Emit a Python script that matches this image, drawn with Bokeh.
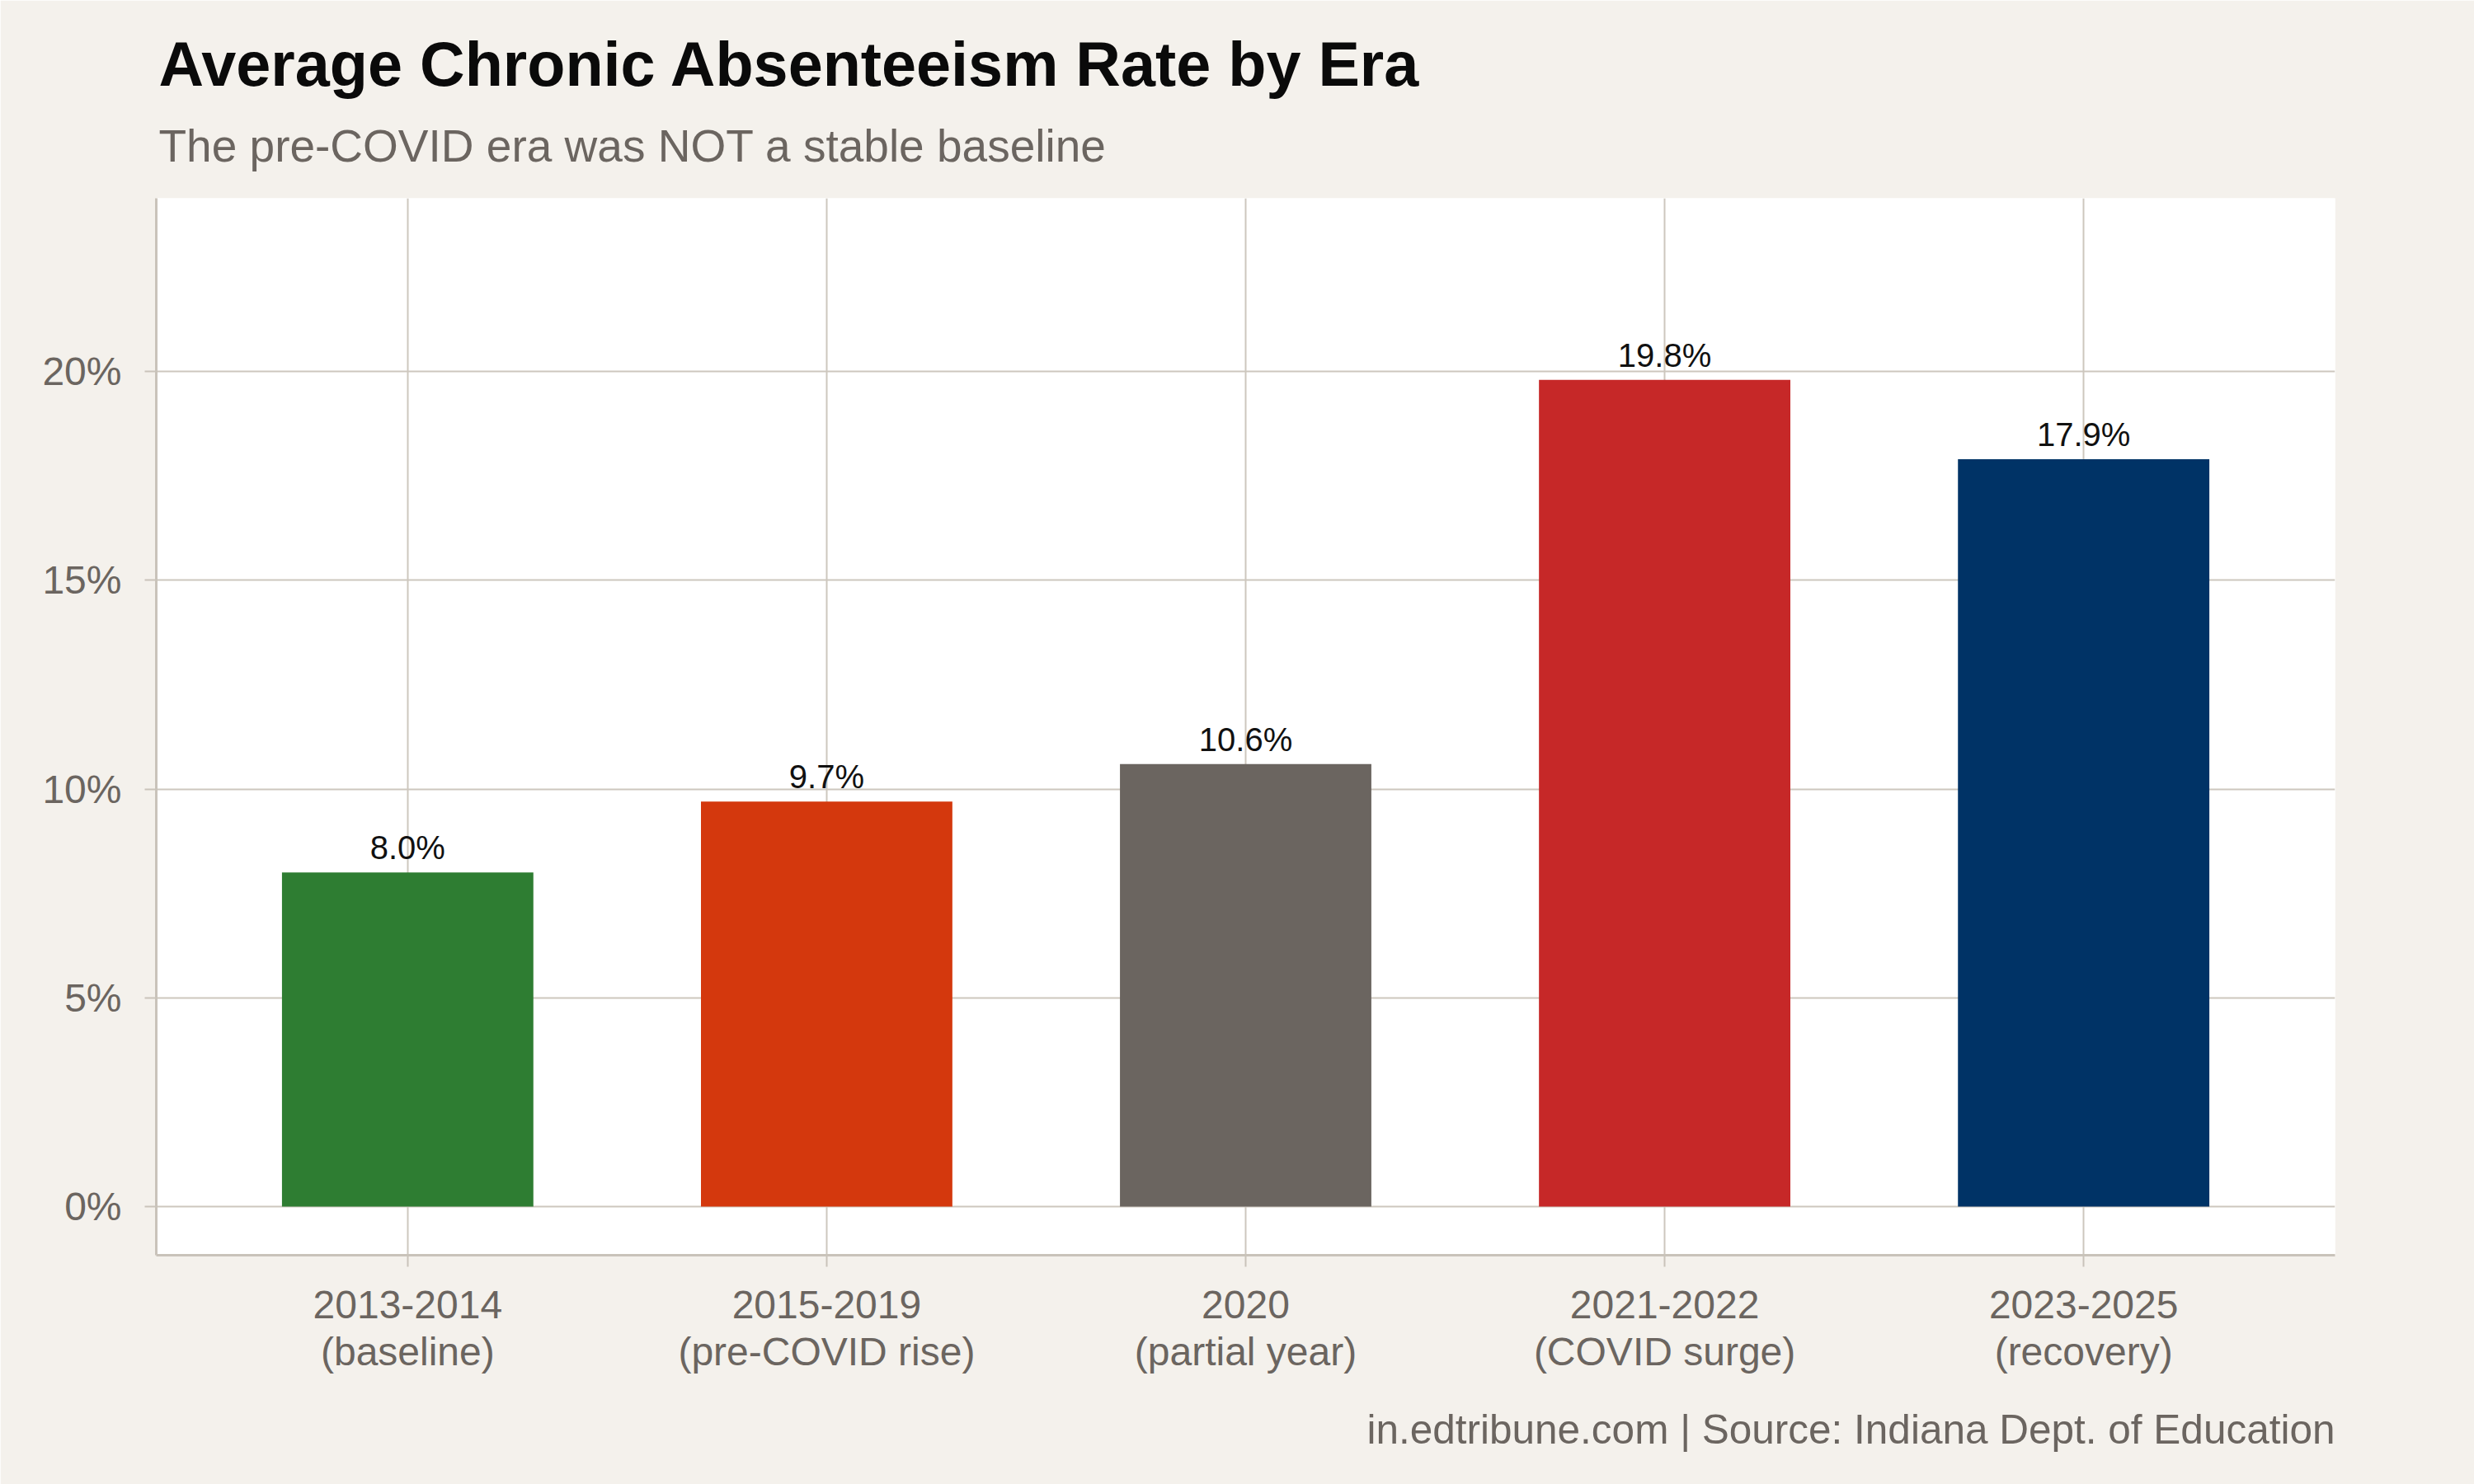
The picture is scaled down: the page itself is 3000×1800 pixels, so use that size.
from bokeh.plotting import figure
from bokeh.models import ColumnDataSource, FactorRange, Range1d, FixedTicker, PrintfTickFormatter, Title
from bokeh.core.properties import value
from bokeh.embed import file_html
from bokeh.resources import INLINE

# Era averages of the chronic absenteeism rate (percent)
eras = ["2013-2014\n(baseline)", "2015-2019\n(pre-COVID rise)", "2020\n(partial year)",
        "2021-2022\n(COVID surge)", "2023-2025\n(recovery)"]
rates = [8.0, 9.7, 10.6, 19.8, 17.9]
colors = ["#2E7D32", "#D4380D", "#6B6560", "#C62828", "#003366"]
y_ticks = [0, 5, 10, 15, 20]

FONT = "Liberation Sans"
BG = "#F4F1EC"
GRID = "#CDC7BE"
AXIS = "#C9C3BA"
MUTED = "#6B6560"

source = ColumnDataSource(dict(
    era=eras,
    rate=rates,
    color=colors,
    label=[f"{r:.1f}%" for r in rates],
))

p = figure(
    width=3000, height=1800,
    x_range=FactorRange(factors=eras, range_padding=0.1, range_padding_units="absolute"),
    y_range=Range1d(-1.165, 24.15),
    output_backend="svg", toolbar_location=None,
    min_border_left=189, min_border_right=169, min_border_top=240, min_border_bottom=278,
)
p.title_location = None
p.background_fill_color = "white"
p.border_fill_color = BG
p.outline_line_color = None

p.vbar(x="era", top="rate", bottom=0, width=0.6, color="color", line_color=None, source=source)
# value labels floated a fixed pixel distance above each bar
p.text(x="era", y="rate", text="label", source=source, y_offset=-30,
       text_align="center", text_baseline="alphabetic",
       text_font=value(FONT), text_font_size="40px", text_color="#111111")

# grid
p.xgrid.grid_line_color = GRID
p.xgrid.grid_line_width = 2
p.ygrid.grid_line_color = GRID
p.ygrid.grid_line_width = 2
p.ygrid.ticker = FixedTicker(ticks=y_ticks)

# axes
p.yaxis.ticker = FixedTicker(ticks=y_ticks)
p.yaxis.formatter = PrintfTickFormatter(format="%d%%")
for ax in (p.xaxis[0], p.yaxis[0]):
    ax.axis_line_color = AXIS
    ax.axis_line_width = 3
    ax.major_tick_line_color = AXIS
    ax.major_tick_line_width = 2
    ax.major_tick_out = 14
    ax.major_tick_in = 0
    ax.minor_tick_line_color = None
    ax.major_label_text_font = FONT
    ax.major_label_text_font_size = "48px"
    ax.major_label_text_color = MUTED
    ax.major_label_text_line_height = 1.08
p.yaxis.major_label_standoff = 28
p.xaxis.major_label_standoff = 19

# headings (subtitle sits closest to the frame) and source note
p.add_layout(Title(text="The pre-COVID era was NOT a stable baseline", align="left",
                   text_font=FONT, text_font_size="55px", text_font_style="normal",
                   text_color=MUTED, offset=3, standoff=66), "above")
p.add_layout(Title(text="Average Chronic Absenteeism Rate by Era", align="left",
                   text_font=FONT, text_font_size="75.6px", text_font_style="bold",
                   text_color="#0A0A0A", offset=3, standoff=-18), "above")
p.add_layout(Title(text="in.edtribune.com | Source: Indiana Dept. of Education", align="right",
                   text_font=FONT, text_font_size="49.5px", text_font_style="normal",
                   text_color=MUTED, offset=0, standoff=70), "below")

open("out.html", "w").write(file_html(p, INLINE))
